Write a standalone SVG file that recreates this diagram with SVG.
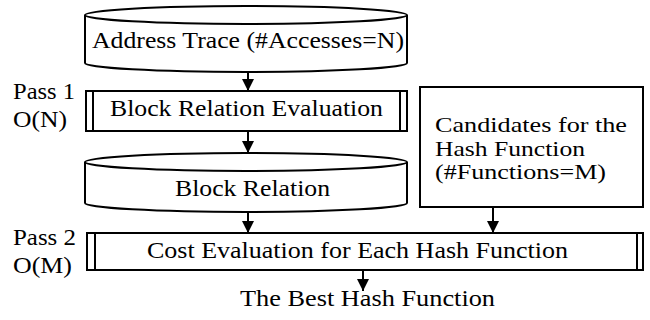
<svg xmlns="http://www.w3.org/2000/svg" width="650" height="320" viewBox="0 0 650 320">
<style>
  .shape { fill: #fff; stroke: #000; stroke-width: 2; }
  .line { fill: none; stroke: #000; stroke-width: 2; }
  .t { font-family: "Liberation Serif", "Times New Roman", serif; font-size: 23px; fill: #000; }
  .c { font-size: 21px; }
</style>
<defs>
  <marker id="arrow" viewBox="0 0 10 10" refX="10" refY="5" markerWidth="12" markerHeight="12" markerUnits="userSpaceOnUse" orient="auto">
    <path d="M0,0 L10,5 L0,10 Z" fill="#000"/>
  </marker>
</defs>
<rect width="650" height="320" fill="#fff"/>

<g id="connectors">
  <line class="line" x1="248" y1="72" x2="248" y2="91" marker-end="url(#arrow)"/>
  <line class="line" x1="248" y1="131" x2="248" y2="153" marker-end="url(#arrow)"/>
  <line class="line" x1="248" y1="212" x2="248" y2="233" marker-end="url(#arrow)"/>
  <line class="line" x1="493" y1="207" x2="493" y2="233" marker-end="url(#arrow)"/>
  <line class="line" x1="363" y1="270" x2="363" y2="291" marker-end="url(#arrow)"/>
</g>

<g id="address-trace">
  <path class="shape" d="M85,15 L85,63 A161,9 0 0 0 407,63 L407,15"/>
  <ellipse class="shape" cx="246" cy="15" rx="161" ry="9"/>
  <text class="t" x="92" y="48" textLength="312" lengthAdjust="spacingAndGlyphs">Address Trace (#Accesses=N)</text>
</g>

<g id="pass1-label">
  <text class="t" x="13" y="99" textLength="62" lengthAdjust="spacingAndGlyphs">Pass 1</text>
  <text class="t" x="13" y="127" textLength="54" lengthAdjust="spacingAndGlyphs">O(N)</text>
</g>

<g id="block-relation-evaluation">
  <rect class="shape" x="86" y="91" width="321" height="40"/>
  <line class="line" x1="93" y1="91" x2="93" y2="131"/>
  <line class="line" x1="400" y1="91" x2="400" y2="131"/>
  <text class="t" x="110" y="116" textLength="273" lengthAdjust="spacingAndGlyphs">Block Relation Evaluation</text>
</g>

<g id="block-relation">
  <path class="shape" d="M85,162 L85,203 A161,9 0 0 0 407,203 L407,162"/>
  <ellipse class="shape" cx="246" cy="162" rx="161" ry="9"/>
  <text class="t" x="175" y="196" textLength="155" lengthAdjust="spacingAndGlyphs">Block Relation</text>
</g>

<g id="candidates">
  <rect class="shape" x="420" y="87" width="223" height="120"/>
  <text class="t c" x="435" y="132" textLength="192" lengthAdjust="spacingAndGlyphs">Candidates for the</text>
  <text class="t c" x="435" y="155.5" textLength="150" lengthAdjust="spacingAndGlyphs">Hash Function</text>
  <text class="t c" x="435" y="179" textLength="171" lengthAdjust="spacingAndGlyphs">(#Functions=M)</text>
</g>

<g id="pass2-label">
  <text class="t" x="13" y="245" textLength="63" lengthAdjust="spacingAndGlyphs">Pass 2</text>
  <text class="t" x="13" y="273" textLength="59" lengthAdjust="spacingAndGlyphs">O(M)</text>
</g>

<g id="cost-evaluation">
  <rect class="shape" x="87" y="233" width="556" height="37"/>
  <line class="line" x1="95" y1="233" x2="95" y2="270"/>
  <line class="line" x1="637" y1="233" x2="637" y2="270"/>
  <text class="t" x="147" y="258" textLength="421" lengthAdjust="spacingAndGlyphs">Cost Evaluation for Each Hash Function</text>
</g>

<g id="best-hash-function">
  <text class="t" x="240" y="306" textLength="255" lengthAdjust="spacingAndGlyphs">The Best Hash Function</text>
</g>
</svg>
